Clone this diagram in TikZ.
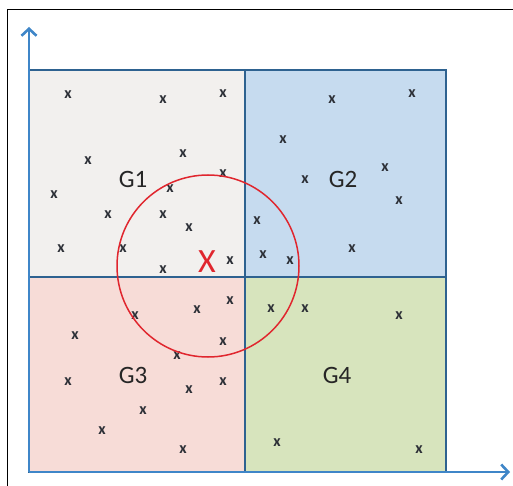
\documentclass[tikz,border=0pt]{standalone}
\usepackage{fontspec}
\setmainfont{Carlito}
\usetikzlibrary{arrows.meta}
\definecolor{gone}{HTML}{F2F0EE}
\definecolor{gtwo}{HTML}{C6DBEF}
\definecolor{gthree}{HTML}{F7DCD7}
\definecolor{gfour}{HTML}{D7E4BD}
\definecolor{gridblue}{HTML}{2E6290}
\definecolor{axisblue}{HTML}{3F86C8}
\definecolor{circred}{HTML}{E0262E}
\definecolor{markgray}{HTML}{2C2F36}
\tikzset{
  quad/.style={draw=gridblue, line width=2.6pt},
  axisline/.style={draw=axisblue, line width=2.2pt, -{Straight Barb[length=7pt,width=15pt,line width=2.6pt]}},
  glabel/.style={font=\fontsize{25}{25}\selectfont, text=black!85, inner sep=0pt},
  pt/.style={font=\bfseries\fontsize{16}{16}\selectfont, text=markgray, inner sep=0pt},
  query/.style={font=\fontsize{34}{34}\selectfont, text=circred, inner sep=0pt},
}
\begin{document}
\begin{tikzpicture}[x=1pt,y=-1pt]
\useasboundingbox (0,0) rectangle (513,486);
\fill[white] (0,0) rectangle (513,486);
% frame
\draw[black, line width=1pt] (7,486) -- (7,10) -- (513,10);
% quadrants
\fill[gone] (29,70) rectangle (245,277);
\fill[gtwo] (245,70) rectangle (446,277);
\fill[gthree] (29,277) rectangle (245,472);
\fill[gfour] (245,277) rectangle (446,472);
\draw[quad] (29,70) rectangle (446,472);
\draw[quad] (245,70) -- (245,472);
\draw[quad] (29,277) -- (446,277);
% axes
\coordinate (o) at (29,472);
\coordinate (ytip) at (29,27);
\coordinate (xtip) at (510,472);
\draw[axisline] (o) -- (ytip);
\draw[axisline] (o) -- (xtip);
% labels
\node[glabel] (g1) at (133,179) {G1};
\node[glabel] (g2) at (343,179) {G2};
\node[glabel] (g3) at (133,375) {G3};
\node[glabel] (g4) at (337,375) {G4};
% points
\foreach \px/\py [count=\i] in {
  68/97, 163/102, 223/96, 88/163, 183/156, 223/176, 54/197, 170/191,
  108/217, 163/217, 189/230, 61/251, 123/251, 163/272, 230/263,
  230/303, 197/312, 135/318, 75/338, 223/344, 177/358, 68/384, 189/392,
  223/384, 143/413, 102/433, 183/452,
  332/102, 412/96, 283/142, 305/182, 385/170, 399/203, 257/223, 352/251,
  263/257, 290/263, 271/311, 305/311, 399/318, 277/445, 419/452}
  \node[pt] (p\i) at (\px,\py-2) {x};
% query point and circle
\node[query] (q) at (207,262) {X};
\coordinate (c) at (208,266);
\draw[circred, line width=1.5pt] (c) circle[radius=91];
\end{tikzpicture}
\end{document}
